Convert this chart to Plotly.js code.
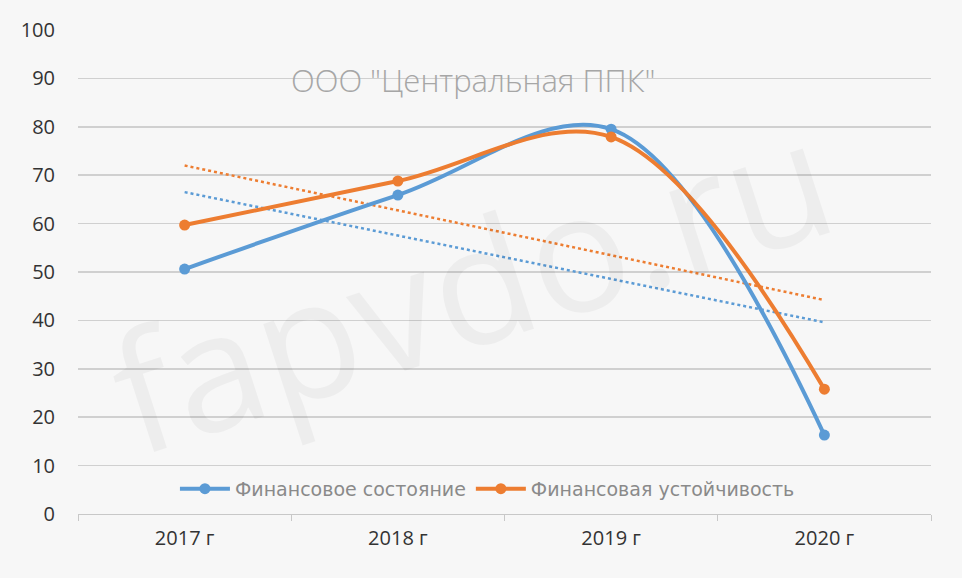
<!DOCTYPE html>
<html>
<head>
<meta charset="utf-8">
<script src="https://cdn.plot.ly/plotly-3.0.1.min.js"></script>
<style>
  html, body { margin: 0; padding: 0; background: #f7f7f7; }
  #chart { width: 962px; height: 578px; }
</style>
</head>
<body>
<div id="chart"></div>
<script>
// Years and the two series
const years = ['2017 г', '2018 г', '2019 г', '2020 г'];
const finState = [50.6, 65.9, 79.5, 16.3];
const finStability = [59.7, 68.8, 77.9, 25.8];

// Linear trend endpoints (first and last year)
const trendYears = ['2017 г', '2020 г'];
const finStateTrend = [66.5, 39.6];
const finStabilityTrend = [72.0, 44.2];

const blue = '#5b9bd5';
const orange = '#ed7d31';

const traces = [
    {
        x: trendYears, y: finStateTrend,
        type: 'scatter', mode: 'lines',
        line: { color: blue, width: 2.5, dash: 'dot' },
        showlegend: false, hoverinfo: 'skip'
    },
    {
        x: trendYears, y: finStabilityTrend,
        type: 'scatter', mode: 'lines',
        line: { color: orange, width: 2.5, dash: 'dot' },
        showlegend: false, hoverinfo: 'skip'
    },
    {
        x: years, y: finState,
        type: 'scatter', mode: 'lines+markers',
        name: 'Финансовое состояние',
        line: { color: blue, width: 4, shape: 'spline', smoothing: 1 },
        marker: { color: blue, size: 11 }
    },
    {
        x: years, y: finStability,
        type: 'scatter', mode: 'lines+markers',
        name: 'Финансовая устойчивость',
        line: { color: orange, width: 4, shape: 'spline', smoothing: 1 },
        marker: { color: orange, size: 11 }
    }
];

const layout = {
    width: 962,
    height: 578,
    paper_bgcolor: '#f7f7f7',
    plot_bgcolor: '#f7f7f7',
    font: { family: 'Open Sans, Noto Sans, sans-serif', color: '#404040' },
    margin: { l: 78, r: 31, t: 30, b: 64 },
    xaxis: {
        type: 'category',
        categoryorder: 'array',
        categoryarray: years,
        range: [-0.5, 3.5],
        tickson: 'boundaries',
        ticks: 'outside',
        ticklen: 6,
        tickcolor: '#c8c8c8',
        showline: true,
        linecolor: '#c8c8c8',
        showgrid: false,
        ticklabelstandoff: 6,
        tickfont: { size: 20, color: '#333333' },
        fixedrange: true
    },
    yaxis: {
        range: [0, 100],
        dtick: 10,
        showgrid: true,
        gridcolor: '#d0d0d0',
        gridwidth: 1.5,
        zeroline: false,
        showline: false,
        ticks: '',
        ticklabelstandoff: 22,
        tickfont: { size: 20, color: '#333333' },
        fixedrange: true
    },
    showlegend: true,
    legend: {
        orientation: 'h',
        x: 0.48, xanchor: 'center',
        y: 0.052, yanchor: 'middle',
        bgcolor: 'rgba(0,0,0,0)',
        font: { size: 19, color: '#8a8a8a', family: 'DejaVu Sans, sans-serif' },
        itemwidth: 50
    },
    annotations: [
        {
            text: 'ООО "Центральная ППК"',
            xref: 'paper', yref: 'paper',
            x: 0.463, y: 0.945,
            showarrow: false,
            font: { size: 31, color: '#a6a6a6', weight: 300, family: 'Open Sans, Noto Sans, sans-serif' }
        },
        {
            text: 'fapvdo.ru',
            xref: 'paper', yref: 'paper',
            x: 0.46, y: 0.48,
            showarrow: false,
            textangle: -18,
            font: { size: 165, color: 'rgba(0,0,0,0.04)', family: 'Open Sans, sans-serif' }
        }
    ]
};

Plotly.newPlot('chart', traces, layout, { displayModeBar: false, staticPlot: true });
</script>
</body>
</html>
